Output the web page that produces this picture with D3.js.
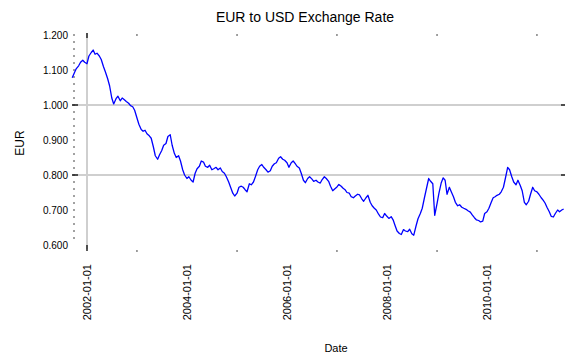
<!DOCTYPE html>
<html><head><meta charset="utf-8">
<script src="https://cdn.jsdelivr.net/npm/d3@7/dist/d3.min.js"></script>
<style>body{margin:0;background:#fff}svg{display:block}text{font-family:"Liberation Sans",Arial,sans-serif;fill:#000}</style>
</head><body><svg id="c" width="565" height="356"></svg>
<script>
const titleText = "EUR to USD Exchange Rate";
const yLabelText = "EUR";
const xLabelText = "Date";

const dates = [
"2001-09-15","2001-10-01","2001-10-15","2001-11-01","2001-11-15","2001-12-01","2001-12-15",
"2002-01-01","2002-01-15","2002-02-01","2002-02-15","2002-03-01","2002-03-15","2002-04-01","2002-04-15","2002-05-01","2002-05-15","2002-06-01","2002-06-15","2002-07-01","2002-07-15","2002-08-01","2002-08-15","2002-09-01","2002-09-15","2002-10-01","2002-10-15","2002-11-01","2002-11-15","2002-12-01","2002-12-15",
"2003-01-01","2003-01-15","2003-02-01","2003-02-15","2003-03-01","2003-03-15","2003-04-01","2003-04-15","2003-05-01","2003-05-15","2003-06-01","2003-06-15","2003-07-01","2003-07-15","2003-08-01","2003-08-15","2003-09-01","2003-09-15","2003-10-01","2003-10-15","2003-11-01","2003-11-15","2003-12-01","2003-12-15",
"2004-01-01","2004-01-15","2004-02-01","2004-02-15","2004-03-01","2004-03-15","2004-04-01","2004-04-15","2004-05-01","2004-05-15","2004-06-01","2004-06-15","2004-07-01","2004-07-15","2004-08-01","2004-08-15","2004-09-01","2004-09-15","2004-10-01","2004-10-15","2004-11-01","2004-11-15","2004-12-01","2004-12-15",
"2005-01-01","2005-01-15","2005-02-01","2005-02-15","2005-03-01","2005-03-15","2005-04-01","2005-04-15","2005-05-01","2005-05-15","2005-06-01","2005-06-15","2005-07-01","2005-07-15","2005-08-01","2005-08-15","2005-09-01","2005-09-15","2005-10-01","2005-10-15","2005-11-01","2005-11-15","2005-12-01","2005-12-15",
"2006-01-01","2006-01-15","2006-02-01","2006-02-15","2006-03-01","2006-03-15","2006-04-01","2006-04-15","2006-05-01","2006-05-15","2006-06-01","2006-06-15","2006-07-01","2006-07-15","2006-08-01","2006-08-15","2006-09-01","2006-09-15","2006-10-01","2006-10-15","2006-11-01","2006-11-15","2006-12-01","2006-12-15",
"2007-01-01","2007-01-15","2007-02-01","2007-02-15","2007-03-01","2007-03-15","2007-04-01","2007-04-15","2007-05-01","2007-05-15","2007-06-01","2007-06-15","2007-07-01","2007-07-15","2007-08-01","2007-08-15","2007-09-01","2007-09-15","2007-10-01","2007-10-15","2007-11-01","2007-11-15","2007-12-01","2007-12-15",
"2008-01-01","2008-01-15","2008-02-01","2008-02-15","2008-03-01","2008-03-15","2008-04-01","2008-04-15","2008-05-01","2008-05-15","2008-06-01","2008-06-15","2008-07-01","2008-07-15","2008-08-01","2008-08-15","2008-09-01","2008-09-15","2008-10-01","2008-10-15","2008-11-01","2008-11-15","2008-12-01","2008-12-15",
"2009-01-01","2009-01-15","2009-02-01","2009-02-15","2009-03-01","2009-03-15","2009-04-01","2009-04-15","2009-05-01","2009-05-15","2009-06-01","2009-06-15","2009-07-01","2009-07-15","2009-08-01","2009-08-15","2009-09-01","2009-09-15","2009-10-01","2009-10-15","2009-11-01","2009-11-15","2009-12-01","2009-12-15",
"2010-01-01","2010-01-15","2010-02-01","2010-02-15","2010-03-01","2010-03-15","2010-04-01","2010-04-15","2010-05-01","2010-05-15","2010-06-01","2010-06-15","2010-07-01","2010-07-15","2010-08-01","2010-08-15","2010-09-01","2010-09-15","2010-10-01","2010-10-15","2010-11-01","2010-11-15","2010-12-01","2010-12-15",
"2011-01-01","2011-01-15","2011-02-01","2011-02-15","2011-03-01","2011-03-15","2011-04-01","2011-04-15","2011-05-01","2011-05-15","2011-06-01","2011-06-15","2011-07-01","2011-07-15"
];

const rates = [
1.078,1.092,1.104,1.112,1.122,1.128,1.122,
1.118,1.140,1.150,1.157,1.145,1.148,1.140,1.130,1.110,1.095,1.075,1.055,1.020,1.003,1.018,1.025,1.012,1.020,1.015,1.010,1.005,0.998,0.995,0.985,
0.963,0.945,0.930,0.925,0.928,0.918,0.912,0.905,0.880,0.855,0.845,0.858,0.870,0.885,0.890,0.910,0.915,0.885,0.862,0.850,0.855,0.840,0.815,0.800,
0.790,0.795,0.785,0.780,0.805,0.818,0.825,0.840,0.837,0.825,0.822,0.828,0.815,0.818,0.822,0.815,0.820,0.810,0.805,0.795,0.780,0.765,0.748,0.740,
0.748,0.765,0.768,0.765,0.758,0.752,0.775,0.772,0.780,0.795,0.815,0.825,0.830,0.822,0.815,0.808,0.812,0.825,0.832,0.835,0.848,0.852,0.845,0.842,
0.835,0.822,0.835,0.840,0.833,0.825,0.820,0.805,0.785,0.778,0.790,0.795,0.789,0.782,0.785,0.780,0.777,0.787,0.795,0.790,0.782,0.768,0.755,0.760,
0.766,0.773,0.768,0.762,0.758,0.750,0.748,0.738,0.735,0.740,0.745,0.743,0.732,0.725,0.735,0.742,0.722,0.712,0.705,0.700,0.688,0.680,0.678,0.690,
0.682,0.676,0.681,0.672,0.655,0.640,0.633,0.630,0.644,0.640,0.638,0.645,0.632,0.628,0.655,0.675,0.690,0.705,0.735,0.760,0.790,0.782,0.775,0.685,
0.718,0.748,0.778,0.792,0.785,0.745,0.765,0.752,0.738,0.722,0.712,0.715,0.708,0.705,0.702,0.698,0.694,0.686,0.678,0.672,0.670,0.666,0.668,0.690,
0.695,0.705,0.722,0.735,0.738,0.742,0.745,0.752,0.765,0.790,0.822,0.815,0.795,0.780,0.772,0.785,0.770,0.755,0.722,0.715,0.725,0.745,0.765,0.755,
0.752,0.745,0.735,0.728,0.720,0.708,0.695,0.682,0.680,0.690,0.700,0.695,0.700,0.703
];

const yTickValues = [0.6, 0.7, 0.8, 0.9, 1.0, 1.1, 1.2];
const yGridValues = [0.8, 1.0];
const xTickLabels = ["2002-01-01", "2004-01-01", "2006-01-01", "2008-01-01", "2010-01-01"];
const xMinorYears = ["2003-01-01", "2005-01-01", "2007-01-01", "2009-01-01", "2011-01-01"];
const xGridValues = ["2002-01-01"];

const parse = d3.timeParse("%Y-%m-%d");
const data = dates.map((d, i) => ({ date: parse(d), value: rates[i] }));

const svg = d3.select("#c");
const plotLeft = 72, plotRight = 565, plotTop = 33, plotBottom = 249;

const x = d3.scaleTime()
  .domain([parse("2002-01-01"), parse("2010-01-01")])
  .range([87, 487]);
const y = d3.scaleLinear().domain([0.6, 1.2]).range([245, 35]);

// grid lines
svg.append("g").selectAll("line").data(yGridValues).join("line")
  .attr("x1", plotLeft).attr("x2", plotRight)
  .attr("y1", d => y(d)).attr("y2", d => y(d))
  .attr("stroke", "#cfcfcf").attr("stroke-width", 2);
svg.append("g").selectAll("line").data(xGridValues).join("line")
  .attr("x1", d => x(parse(d))).attr("x2", d => x(parse(d)))
  .attr("y1", plotTop).attr("y2", plotBottom)
  .attr("stroke", "#cfcfcf").attr("stroke-width", 2);

// y minor ticks
const yMinor = d3.range(30).map(i => 0.62 + i * 0.02);
svg.append("g").selectAll("line").data(yMinor).join("line")
  .attr("x1", 73).attr("x2", 75)
  .attr("y1", d => y(d)).attr("y2", d => y(d))
  .attr("stroke", "#444").attr("stroke-width", 1);
// y major ticks
svg.append("g").selectAll("line").data(yGridValues).join("line")
  .attr("x1", 72).attr("x2", 78)
  .attr("y1", d => y(d)).attr("y2", d => y(d))
  .attr("stroke", "#222").attr("stroke-width", 1.5);
svg.append("g").selectAll("line").data(yGridValues).join("line")
  .attr("x1", 561).attr("x2", 565)
  .attr("y1", d => y(d)).attr("y2", d => y(d))
  .attr("stroke", "#222").attr("stroke-width", 1.5);

// x ticks top and bottom
svg.append("g").selectAll("g").data(xGridValues).join("g").each(function(d){
  const g = d3.select(this), xx = x(parse(d));
  g.append("line").attr("x1", xx).attr("x2", xx).attr("y1", 33).attr("y2", 38).attr("stroke", "#222").attr("stroke-width", 1.5);
  g.append("line").attr("x1", xx).attr("x2", xx).attr("y1", 245).attr("y2", 251).attr("stroke", "#222").attr("stroke-width", 1.5);
});
svg.append("g").selectAll("g").data(xMinorYears).join("g").each(function(d){
  const g = d3.select(this), xx = x(parse(d));
  g.append("line").attr("x1", xx).attr("x2", xx).attr("y1", 34).attr("y2", 36).attr("stroke", "#444");
  g.append("line").attr("x1", xx).attr("x2", xx).attr("y1", 250).attr("y2", 252).attr("stroke", "#444");
});

// line
const line = d3.line().x(d => x(d.date)).y(d => y(d.value));
svg.append("path").datum(data)
  .attr("fill", "none").attr("stroke", "#0000ff").attr("stroke-width", 1.3)
  .attr("stroke-linejoin", "round")
  .attr("d", line);

// y tick labels
const fmt = d3.format(".3f");
svg.append("g").selectAll("text").data(yTickValues).join("text")
  .attr("x", 68).attr("y", d => y(d)).attr("dy", "0.35em")
  .attr("text-anchor", "end").attr("font-size", 10)
  .text(d => fmt(d));

// x tick labels
svg.append("g").selectAll("text").data(xTickLabels).join("text")
  .attr("transform", d => `translate(${x(parse(d)) + 4},264) rotate(-90)`)
  .attr("text-anchor", "end").attr("font-size", 11)
  .text(d => d);

// titles
svg.append("text").attr("x", 305).attr("y", 22).attr("text-anchor", "middle")
  .attr("font-size", 14).text(titleText);
svg.append("text").attr("transform", "translate(24,143) rotate(-90)")
  .attr("text-anchor", "middle").attr("font-size", 12).text(yLabelText);
svg.append("text").attr("x", 336).attr("y", 352).attr("text-anchor", "middle")
  .attr("font-size", 11).text(xLabelText);
</script></body></html>
